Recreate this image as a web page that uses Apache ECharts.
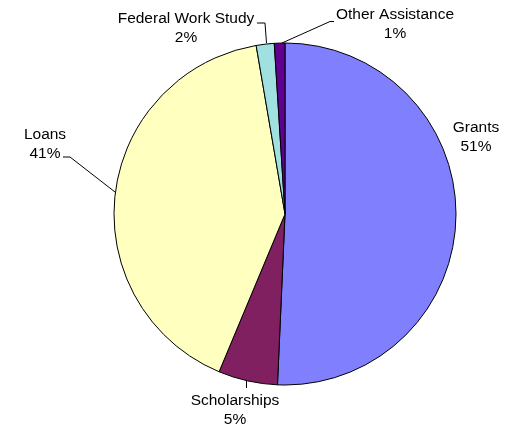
<!DOCTYPE html>
<html>
<head>
<meta charset="utf-8">
<script src="https://cdn.jsdelivr.net/npm/echarts@6/dist/echarts.min.js"></script>
<style>
  html, body { margin: 0; padding: 0; background: #fff; }
  #chart { width: 514px; height: 425px; }
</style>
</head>
<body>
<div id="chart"></div>
<script>
var categories = ['Grants', 'Scholarships', 'Loans', 'Federal Work Study', 'Other Assistance'];
var values = [50.7, 5.6, 41.0, 1.7, 1.0];
var colors = ['#8080FF', '#802060', '#FFFFC0', '#A0E0E0', '#600090'];

// label anchor and leader line per slice
var labelSpots = [
  { x: 476, y: 137, line: null },
  { x: 235, y: 410, line: [[246.5, 381], [246.5, 388]] },
  { x: 45, y: 144, line: [[115, 192], [70, 157], [63, 157]] },
  { x: 186, y: 28.5, line: [[266.5, 43], [265, 23], [257, 23]] },
  { x: 395, y: 24, line: [[282, 43], [330, 21.5], [334, 21.5]] }
];

var chartDom = document.getElementById('chart');
var myChart = echarts.init(chartDom, null, { renderer: 'canvas' });

var data = categories.map(function (name, i) {
  return {
    name: name,
    value: values[i],
    itemStyle: { color: colors[i] },
    labelLine: labelSpots[i].line ? {} : { lineStyle: { opacity: 0 } }
  };
});

var option = {
  backgroundColor: '#ffffff',
  animation: false,
  series: [
    {
      type: 'pie',
      center: [285, 214],
      radius: 171,
      startAngle: 90,
      clockwise: true,
      percentPrecision: 0,
      avoidLabelOverlap: false,
      data: data,
      itemStyle: { borderColor: '#000', borderWidth: 1 },
      label: {
        show: true,
        position: 'outside',
        formatter: '{b}\n{d}%',
        fontFamily: 'Liberation Sans, Arial, sans-serif',
        fontSize: 15.5,
        lineHeight: 19,
        color: '#000',
        align: 'center',
        overflow: 'none'
      },
      labelLine: {
        show: true,
        lineStyle: { color: '#000', width: 1 }
      },
      labelLayout: function (params) {
        var s = labelSpots[params.dataIndex];
        var out = { x: s.x, y: s.y, align: 'center', verticalAlign: 'middle', hideOverlap: false };
        if (s.line) out.labelLinePoints = s.line;
        return out;
      },
      emphasis: { disabled: true }
    }
  ]
};

option && myChart.setOption(option);
</script>
</body>
</html>
